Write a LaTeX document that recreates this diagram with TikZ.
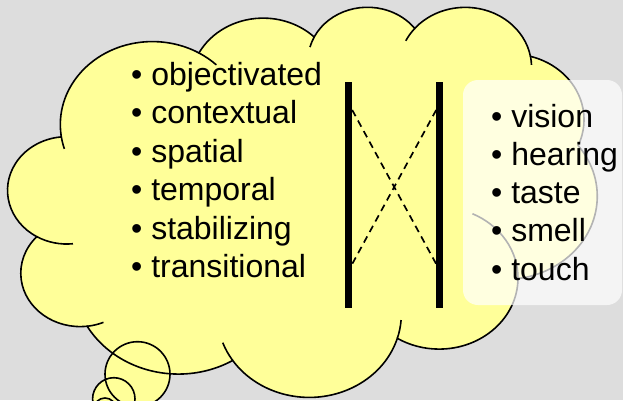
\documentclass[tikz,border=0pt]{standalone}
\usepackage{fontspec}
\setmainfont{Liberation Sans}
\usepackage{xcolor}
\definecolor{slidegray}{HTML}{DDDDDD}
\definecolor{cloudyellow}{HTML}{FFFF99}

% outline of the thought cloud, in 1/100 of the shape box
\newcommand{\cloudoutline}{(39.00,143.70)
  arc[start angle=-187.75, end angle=-59.64, x radius=67.53, y radius=91.90]
  arc[start angle=-152.03, end angle=-45.43, x radius=53.33, y radius=72.67]
  arc[start angle=-153.49, end angle=-37.33, x radius=43.65, y radius=59.45]
  arc[start angle=-139.71, end angle=-10.21, x radius=48.57, y radius=65.95]
  arc[start angle=-74.77, end angle=23.21, x radius=53.33, y radius=72.73]
  arc[start angle=-37.51, end angle=81.86, x radius=67.75, y radius=92.20]
  arc[start angle=0.46, end angle=121.98, x radius=57.85, y radius=78.67]
  arc[start angle=16.84, end angle=146.23, x radius=67.52, y radius=92.15]
  arc[start angle=58.98, end angle=150.18, x radius=77.20, y radius=105.43]
  arc[start angle=-276.69, end angle=-136.89, x radius=43.60, y radius=59.18]
  arc[start angle=-239.64, end angle=-95.89, x radius=43.45, y radius=59.45]
  -- cycle}

\begin{document}
\begin{tikzpicture}[x=1pt, y=1pt,
    item/.style={anchor=base west, inner sep=0pt, font=\fontsize{32}{38}\selectfont},
    bar/.style={line width=7pt},
    cross/.style={line width=1.7pt, dash pattern=on 7pt off 5pt},
    outline/.style={line width=1.6pt}]
  \useasboundingbox (0,0) rectangle (623,400);
  \fill[slidegray] (0,0) rectangle (623,400);
  \clip (0,0) rectangle (623,400);

  % cloud and bubbles: fill first, then the strokes
  \begin{scope}[shift={(8,394)}, x=1.36343pt, y=-0.902778pt]
    \fill[cloudyellow] \cloudoutline;
  \end{scope}
  \fill[cloudyellow] (137.5,25.8) circle (32.5) (113.8,1.1) circle (21.2) (105,-9) circle (11);
  \begin{scope}[shift={(8,394)}, x=1.36343pt, y=-0.902778pt]
    \draw[outline] \cloudoutline;
    \foreach \cx/\cy/\a/\b/\s/\e in {105.91/131.32/67.53/91.90/163/172.25,
        105.91/131.32/67.53/91.90/-59.64/-46, 263.64/60.88/43.65/59.45/-165/-153.49,
        335.40/67.47/48.57/65.95/-154/-139.71, 335.40/67.47/48.57/65.95/-10.21/-2,
        316.21/301.40/57.85/78.67/-65/0.46,
        220.94/341.44/67.52/92.15/4/16.84, 220.94/341.44/67.52/92.15/146.23/160,
        52.98/295.96/43.60/59.18/67/83.31, 43.11/204.22/43.45/59.45/84/120.36}
      \draw[outline] (\cx,\cy) ++({\a*cos(\s)},{\b*sin(\s)})
        arc[start angle=\s, end angle=\e, x radius=\a, y radius=\b];
  \end{scope}
  \draw[outline] (137.5,25.8) circle (32.5) (113.8,1.1) circle (21.2) (105,-9) circle (11);

  % left list
  \foreach \word [count=\i from 0] in {objectivated, contextual, spatial, temporal, stabilizing, transitional}
    \node[item] (mode\i) at (131, 315-38.5*\i) {• \word};

  % the two bars and the crossing
  \coordinate (lbtop) at (348.7,318);
  \coordinate (lbbot) at (348.7,92);
  \coordinate (rbtop) at (439.7,318);
  \coordinate (rbbot) at (439.7,92);
  \coordinate (lhi) at (352.2,290);
  \coordinate (llo) at (352.2,136);
  \coordinate (rhi) at (436.2,290);
  \coordinate (rlo) at (436.2,136);
  \draw[bar] (lbtop) -- (lbbot);
  \draw[bar] (rbtop) -- (rbbot);
  \draw[cross] (lhi) -- (rlo);
  \draw[cross] (rhi) -- (llo);

  % senses
  \node[fill=white, fill opacity=0.7, rounded corners=15pt, minimum width=159pt, minimum height=225pt, inner sep=0pt] (panel) at (542.5,207.5) {};
  \foreach \word [count=\i from 0] in {vision, hearing, taste, smell, touch}
    \node[item] (sense\i) at (491, 273-38.3*\i) {• \word};
\end{tikzpicture}
\end{document}
